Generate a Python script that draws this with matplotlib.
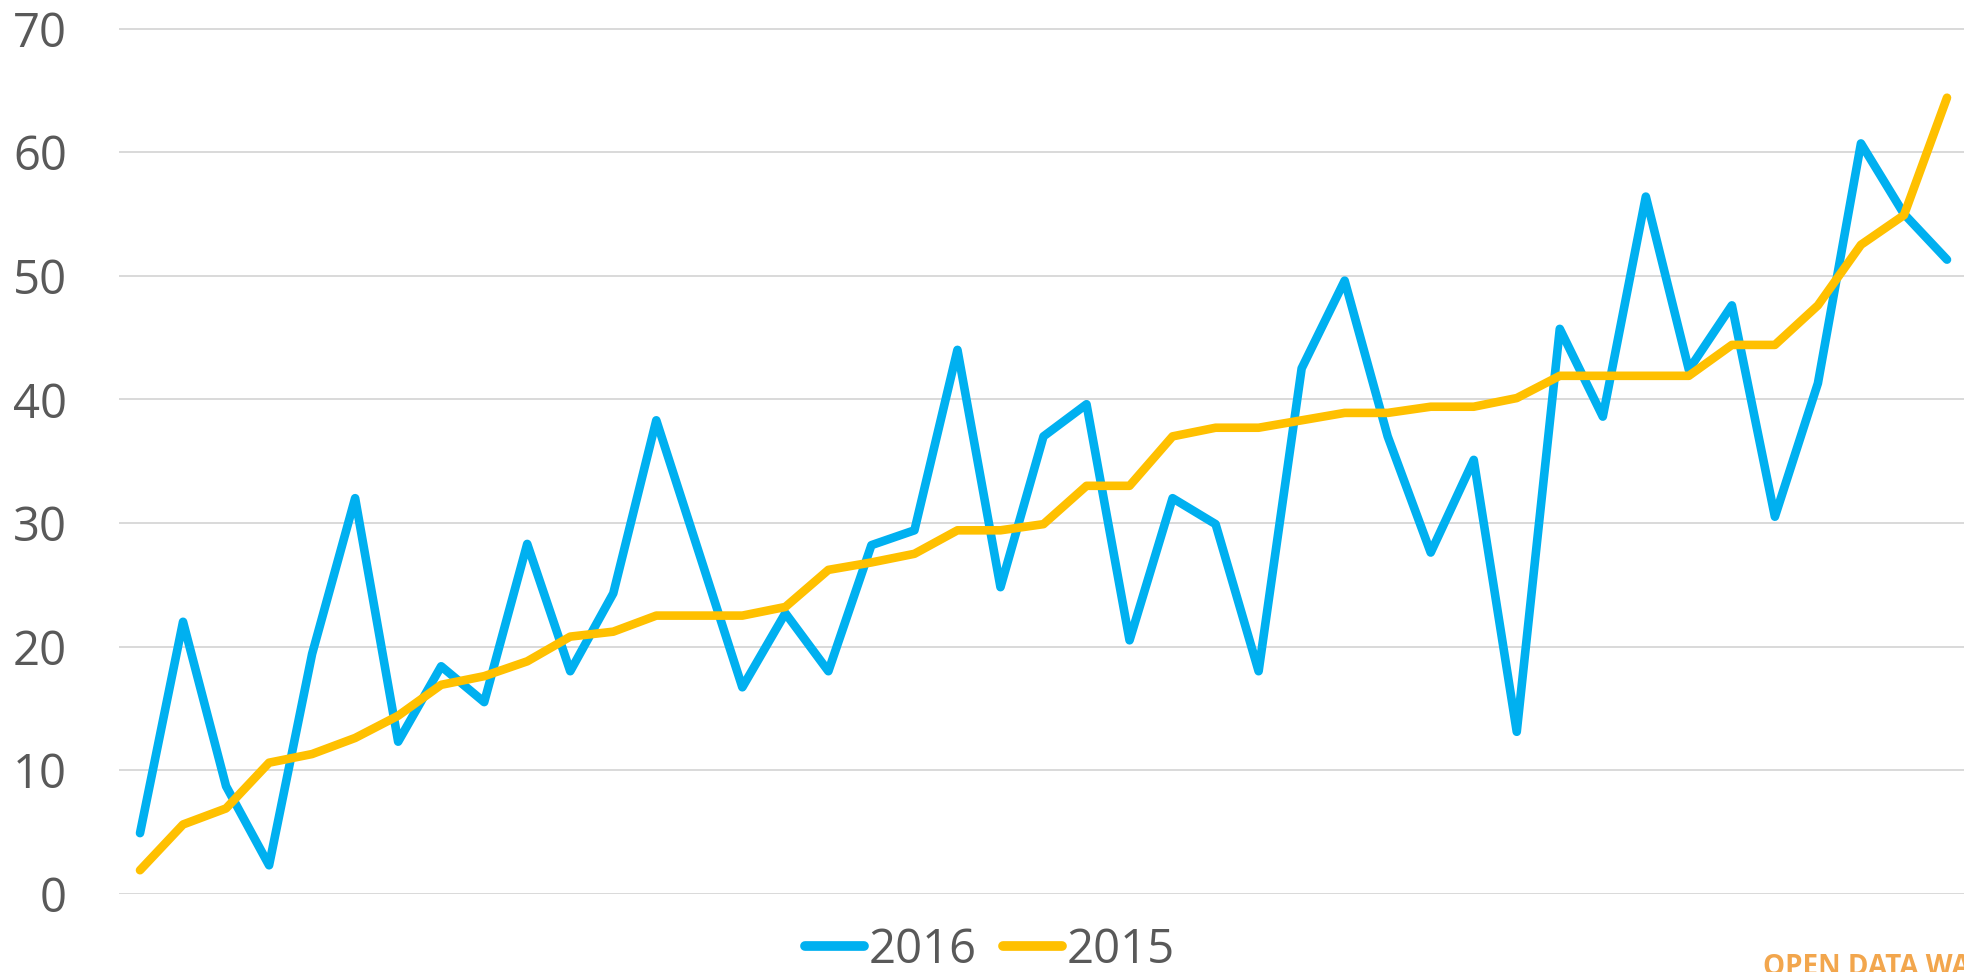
import matplotlib
matplotlib.use("Agg")
import matplotlib.pyplot as plt
import numpy as np

# values (43 periods)
values_2016 = [4.9, 22.0, 8.7, 2.3, 19.4, 32.0, 12.3, 18.4, 15.5, 28.3, 18.0, 24.3,
               38.3, 27.5, 16.7, 22.7, 18.0, 28.2, 29.4, 44.0, 24.8, 37.0, 39.6, 20.5,
               32.0, 29.9, 18.0, 42.5, 49.6, 37.0, 27.6, 35.1, 13.1, 45.7, 38.6, 56.4,
               42.4, 47.6, 30.5, 41.3, 60.7, 55.0, 51.3]
values_2015 = [1.9, 5.6, 6.9, 10.6, 11.3, 12.6, 14.4, 16.9, 17.6, 18.8, 20.8, 21.2,
               22.5, 22.5, 22.5, 23.2, 26.2, 26.8, 27.5, 29.4, 29.4, 29.9, 33.0, 33.0,
               37.0, 37.7, 37.7, 38.3, 38.9, 38.9, 39.4, 39.4, 40.1, 41.9, 41.9, 41.9,
               41.9, 44.4, 44.4, 47.6, 52.5, 54.9, 64.4]
series_labels = ["2016", "2015"]
y_ticks = [0, 10, 20, 30, 40, 50, 60, 70]

plt.rcParams['font.family'] = ['Open Sans', 'DejaVu Sans']
text_color = '#595959'

W, H = 1964, 972
fig = plt.figure(figsize=(W / 100, H / 100), dpi=100)
ax = fig.add_axes([118.5 / W, 78.3 / H, 1850 / W, 865.2 / H])

x = np.arange(len(values_2016))
ax.plot(x, values_2016, color='#00B0F0', lw=6.2, solid_capstyle='round',
        solid_joinstyle='round', label=series_labels[0], zorder=3)
ax.plot(x, values_2015, color='#FFC000', lw=6.2, solid_capstyle='round',
        solid_joinstyle='round', label=series_labels[1], zorder=3)

ax.set_xlim(-0.5, len(x) - 0.5)
ax.set_ylim(0, 70)
ax.set_yticks(y_ticks)
ax.set_xticks([])
ax.tick_params(axis='y', length=0, pad=37, labelsize=34, labelcolor=text_color)
ax.yaxis.grid(True, color='#D9D9D9', lw=1.4)
ax.set_axisbelow(True)
for s in ax.spines.values():
    s.set_visible(False)

leg = fig.legend(loc='center', bbox_to_anchor=(990 / W, 22 / H), ncol=2,
                 frameon=False, fontsize=34, handlelength=1.25,
                 handletextpad=0.1, columnspacing=0.55, borderaxespad=0)
for t in leg.get_texts():
    t.set_color(text_color)
for h in leg.get_lines():
    h.set_linewidth(7)

# source watermark, cropped by the right/bottom edge as in the original
fig.text(1763 / W, -3 / H, "OPEN DATA WATCH", color='#F2A64D', fontsize=20,
         fontweight='bold', ha='left', va='baseline')

fig.savefig("out.png", dpi=100)
